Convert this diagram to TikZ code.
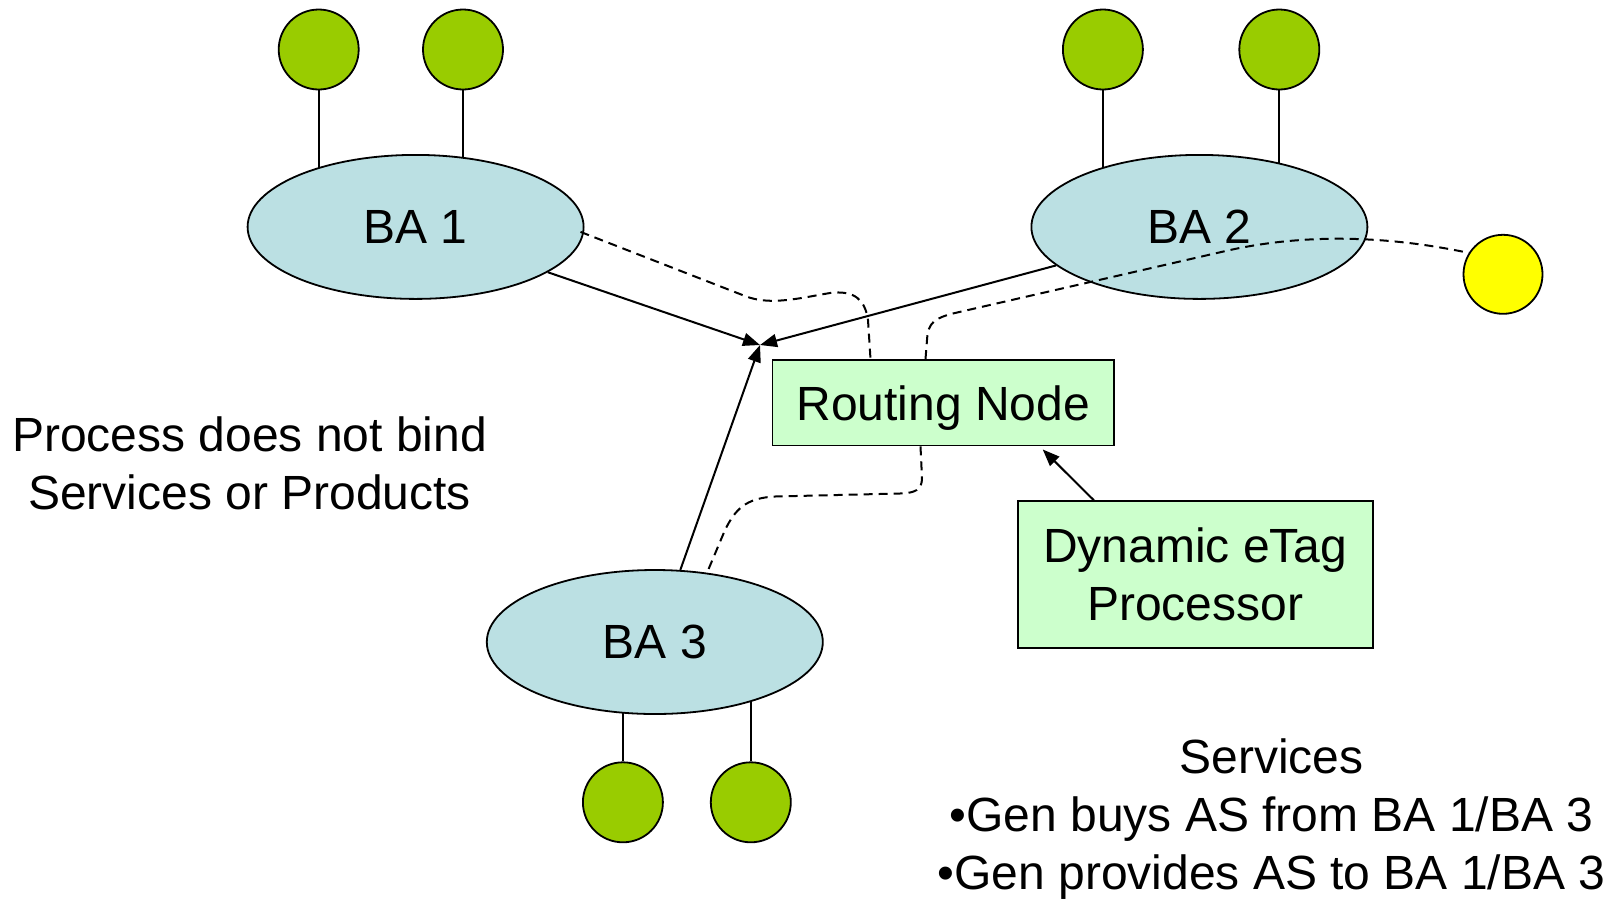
\documentclass[tikz,border=0pt]{standalone}
\usepackage{fontspec}
\setmainfont{Liberation Sans}
\usetikzlibrary{shapes.geometric,arrows.meta,calc,backgrounds}
\definecolor{bafill}{RGB}{187,224,227}
\definecolor{leaf}{RGB}{153,204,0}
\definecolor{boxfill}{RGB}{204,255,204}
\definecolor{gold}{RGB}{255,255,0}
\begin{document}
\begin{tikzpicture}[x=1pt,y=-1pt,
  txt/.style={font=\fontsize{48}{57.75}\selectfont},
  ba/.style={txt,ellipse,draw,line width=1.8pt,fill=bafill,minimum width=336pt,minimum height=144pt,inner sep=0pt},
  leafnode/.style={circle,draw,line width=1.8pt,fill=leaf,minimum size=80pt,inner sep=0pt},
  gennode/.style={circle,draw,line width=1.8pt,fill=gold,minimum size=79pt,inner sep=0pt},
  boxnode/.style={txt,rectangle,draw,line width=1.8pt,fill=boxfill,inner sep=0pt,align=center},
  stem/.style={line width=2pt},
  arr/.style={line width=2pt,-{Triangle[length=17pt,width=13pt]}},
  dashline/.style={line width=2pt,dash pattern=on 9pt off 6pt}
]
\useasboundingbox (0,0) rectangle (1617,898);

% business areas
\node[ba] (ba1) at (415.6,226.9) {BA 1};
\node[ba] (ba2) at (1199.4,226.9) {BA 2};
\node[ba] (ba3) at (654.8,642) {BA 3};

% leaf circles
\node[leafnode] (g1) at (318.7,49.5) {};
\node[leafnode] (g2) at (463.0,49.5) {};
\node[leafnode] (g3) at (1102.9,49.5) {};
\node[leafnode] (g4) at (1279.3,49.5) {};
\node[leafnode] (g5) at (622.9,802.3) {};
\node[leafnode] (g6) at (750.8,802.3) {};

% generator
\node[gennode] (gen) at (1503,274.3) {};

% boxes
\node[boxnode,text depth=0pt,minimum width=341.4pt,minimum height=85.5pt] (rn) at (943.1,402.8) {Routing Node};
\node[boxnode,minimum width=354.8pt,minimum height=146.4pt] (dyn) at (1195.2,574.4) {Dynamic eTag\\Processor};

% texts
\node[txt,align=center] (proc) at (249.6,463) {Process does not bind\\Services or Products};
\node[txt,align=center] (serv) at (1271.5,819) {Services\\•Gen buys AS from BA 1/BA 3\\•Gen provides AS to BA 1/BA 3};

% stems behind
\begin{scope}[on background layer]
\draw[stem] (g1.south) -- (g1 |- ba1.center);
\draw[stem] (g2.south) -- (g2 |- ba1.center);
\draw[stem] (g3.south) -- (g3 |- ba2.center);
\draw[stem] (g4.south) -- (g4 |- ba2.center);
\draw[stem] (g5.north) -- (g5 |- ba3.center);
\draw[stem] (g6.north) -- (g6 |- ba3.center);
\end{scope}

% arrows to hub
\coordinate (hub) at (760,345);
\draw[arr] (ba1) -- (hub);
\draw[arr] (ba2) -- (hub);
\draw[arr] (ba3) -- (hub);
\draw[arr] ($(dyn.north west)+(77,0)$) -- ($(rn.south east)+(-72,3)$);

% dashed paths
\draw[dashline] ($(ba1.east)+(-4,5)$) -- (745,296) .. controls (770,306) and (800,298) .. (830,293)
  .. controls (855,290) and (865,300) .. (868,320) -- ($(rn.north west)+(99,0)$);
\draw[dashline] ($(rn.north west)+(154,0)$) -- (927,340) .. controls (928,322) and (935,318) .. (955,313)
  -- (1230,250) .. controls (1290,237) and (1370,232) .. (gen.148);
\draw[dashline] ($(rn.south west)+(149,0)$) -- (922,478) .. controls (922,490) and (915,493) .. (900,493.5)
  -- (775,496.5) .. controls (745,498) and (735,510) .. (725,530) -- (ba3.53);
\end{tikzpicture}
\end{document}
